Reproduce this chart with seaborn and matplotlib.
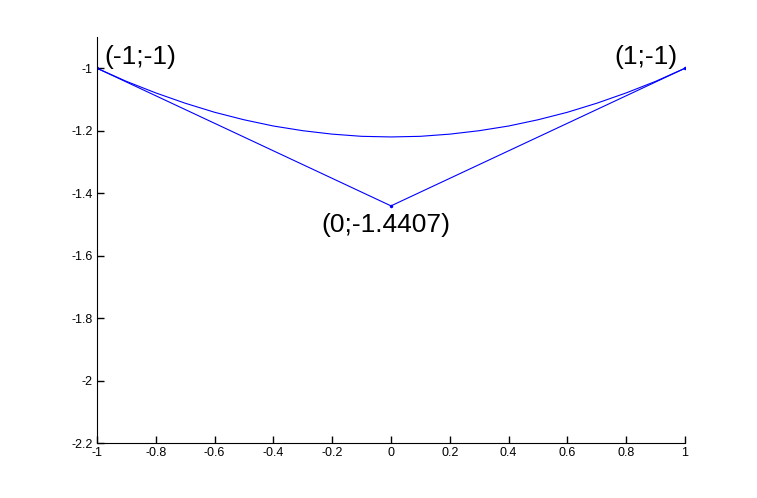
import matplotlib
matplotlib.use('Agg')
import matplotlib.pyplot as plt
import seaborn as sns

# control polygon
ctrl_x = [-1, 0, 1]
ctrl_y = [-1, -1.4407, -1]
ctrl_labels = ['(-1;-1)', '(0;-1.4407)', '(1;-1)']

# curve
curve_x = [-1, -0.9, -0.8, -0.7, -0.6, -0.5, -0.4, -0.3, -0.2, -0.1, 0,
           0.1, 0.2, 0.3, 0.4, 0.5, 0.6, 0.7, 0.8, 0.9, 1]
curve_y = [-1, -1.042, -1.079, -1.112, -1.141, -1.165, -1.185, -1.200, -1.211, -1.218, -1.220,
           -1.218, -1.211, -1.200, -1.185, -1.165, -1.141, -1.112, -1.079, -1.042, -1]

xticks = [-1, -0.8, -0.6, -0.4, -0.2, 0, 0.2, 0.4, 0.6, 0.8, 1]
yticks = [-2.2, -2, -1.8, -1.6, -1.4, -1.2, -1]

sns.set_style('ticks')
plt.rcParams['font.family'] = ['Liberation Sans', 'DejaVu Sans']
plt.rcParams['text.color'] = 'black'

fig = plt.figure(figsize=(7.57, 4.98), dpi=100)
ax = fig.add_axes([0.1281, 0.1104, 0.7768, 0.8153])

sns.lineplot(x=curve_x, y=curve_y, ax=ax, color='blue', lw=0.8, sort=False, estimator=None)
sns.lineplot(x=ctrl_x, y=ctrl_y, ax=ax, color='blue', lw=0.8, sort=False, estimator=None,
             marker='.', markersize=5, markeredgewidth=0)

# label placement
ax.text(-0.976, -0.965, ctrl_labels[0], fontsize=19, ha='left', va='center', color='black')
ax.text(-0.017, -1.503, ctrl_labels[1], fontsize=19, ha='center', va='center', color='black')
ax.text(0.973, -0.965, ctrl_labels[2], fontsize=19, ha='right', va='center', color='black')

ax.set_xlim(-1, 1)
ax.set_ylim(-2.2, -0.9)
ax.set_xticks(xticks)
ax.set_xticklabels(['%g' % v for v in xticks])
ax.set_yticks(yticks)
ax.set_yticklabels(['%g' % v for v in yticks])
sns.despine(ax=ax)
ax.tick_params(axis='both', which='major', direction='in', bottom=True, left=True,
               labelsize=9, length=5, width=1, color='black', labelcolor='black', pad=3)
for s in ['left', 'bottom']:
    ax.spines[s].set_color('black')
    ax.spines[s].set_linewidth(0.8)

fig.savefig('out.png', dpi=100)
